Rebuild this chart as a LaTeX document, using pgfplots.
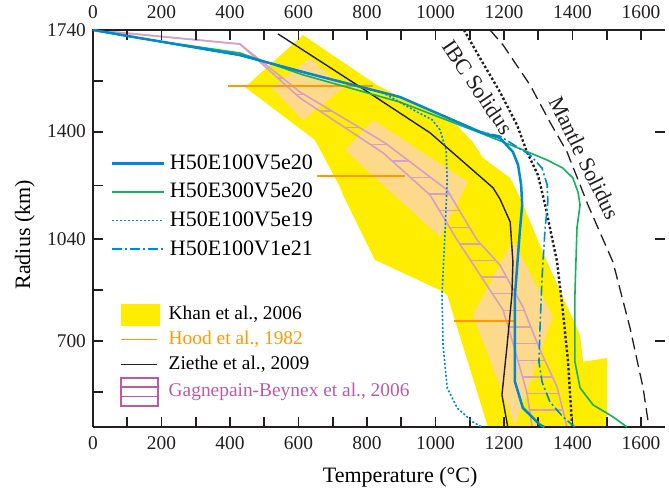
\documentclass[border=0pt]{standalone}
\usepackage{fontspec}
\setmainfont{Liberation Serif}
\usepackage{pgfplots}
\pgfplotsset{compat=1.18}
\usetikzlibrary{patterns.meta}
\definecolor{modelblue}{RGB}{0,137,207}
\definecolor{modelgreen}{RGB}{20,178,90}
\definecolor{khan}{RGB}{255,237,0}
\definecolor{peach}{RGB}{253,217,140}
\definecolor{gbpink}{RGB}{214,160,196}
\definecolor{gbmag}{RGB}{190,88,170}
\definecolor{hood}{RGB}{255,153,0}
\definecolor{axisk}{RGB}{35,31,32}
\pgfplotsset{common/.style={
  at={(0,0)}, anchor=south west, scale only axis, width=286pt, height=198.5pt,
  xmin=0, xmax=1670, ymin=412, ymax=1740,
  axis line style={draw=none},
  /pgf/number format/assume math mode=true,
  /pgf/number format/1000 sep={},
  tick label style={font=\rmfamily\fontsize{9.7}{11}\selectfont, text=axisk},
  major tick length=5pt, minor tick length=5pt,
  tick style={line width=0.9pt, color=axisk},
  tick align=inside,
  clip mode=individual,
  legend cell align=left,
}}
\begin{document}
\begin{tikzpicture}
\useasboundingbox (-46.5pt,-33pt) rectangle (288pt,213.5pt);
\begin{axis}[common, axis on top,
  xtick={0,200,...,1600}, minor xtick={100,300,...,1500}, xtick pos=both, xticklabel pos=lower,
  xticklabel style={yshift=-1.5pt},
  ytick={700,1040,1400,1740}, minor ytick={530,870,1220,1570}, ytick pos=left,
  xlabel={Temperature (°C)}, ylabel={Radius (km)},
  label style={font=\rmfamily\fontsize{11}{13}\selectfont},
  xlabel style={at={(axis description cs:0.537,-0.126)}, anchor=center},
  ylabel style={at={(axis description cs:-0.119,0.484)}, anchor=center},
  legend style={at={(axis description cs:0.0472,0.316)}, anchor=north west, draw=none, fill=none,
    font=\rmfamily\fontsize{9.7}{11}\selectfont, column sep=4.5pt, row sep=0pt, inner sep=0pt,
    nodes={inner sep=0pt, minimum height=12.5pt}},
]
\addlegendimage{legend image code/.code={\fill[khan] (0pt,-5.25pt) rectangle (19pt,5.25pt);}}
\addlegendentry{Khan et al., 2006}
\addlegendimage{legend image code/.code={\draw[hood, line width=0.9pt] (0pt,0pt) -- (18pt,0pt);}}
\addlegendentry{\textcolor{hood}{Hood et al., 1982}}
\addlegendimage{legend image code/.code={\draw[axisk, line width=0.8pt] (0pt,0pt) -- (18pt,0pt);}}
\addlegendentry{Ziethe et al., 2009}
\addlegendimage{legend image code/.code={\draw[gbmag, line width=0.8pt] (0pt,-7pt) rectangle (18.5pt,7pt); \draw[gbmag, line width=0.8pt] (0pt,-2.33pt) -- (18.5pt,-2.33pt) (0pt,2.33pt) -- (18.5pt,2.33pt);}}
\addlegendentry{\textcolor{gbmag}{Gagnepain-Beynex et al., 2006}}

% Khan et al. 2006
\addplot[fill=khan, draw=none, forget plot] coordinates {
(613,1723) (829,1556) (926,1499) (1042,1445) (1109,1365) (1139,1312) (1218,1245) (1247,1178)
(1326,964) (1422,720) (1431,630) (1501,643) (1501,412) (1153,412) (1034,854) (1013,870)
(823,971) (730,1188) (721,1215) (648,1372) (444,1549)};
\addplot[fill=peach, draw=none, forget plot] coordinates {(523,1546) (634,1646) (730,1546) (613,1439)};
\addplot[fill=peach, draw=none, forget plot] coordinates {(736,1339) (818,1439) (1095,1232) (1013,1048)};
\addplot[fill=peach, draw=none, forget plot] coordinates {(1109,787) (1226,1038) (1343,783) (1232,414)};
% Gagnepain-Beynex 2006
\addplot[draw=none, pattern={Lines[angle=0,distance=8.3pt,line width=0.7pt]}, pattern color=gbpink, forget plot] coordinates {
(429,1693) (604,1513) (847,1329) (984,1188) (1063,1038) (1130,921) (1197,804) (1232,670) (1267,526) (1282,412)
(1384,412) (1355,546) (1305,670) (1255,814) (1188,954) (1121,1038) (1034,1205) (853,1362) (604,1533)};
\addplot[gbpink, line width=0.8pt, forget plot] coordinates {
(0,1740) (429,1693) (604,1513) (847,1329) (984,1188) (1063,1038) (1130,921) (1197,804) (1232,670) (1267,526) (1282,412)};
\addplot[gbpink, line width=0.8pt, forget plot] coordinates {
(0,1740) (429,1693) (604,1533) (853,1362) (1034,1205) (1121,1038) (1188,954) (1255,814) (1305,670) (1355,546) (1384,412)};
% Hood et al. 1982
\addplot[hood, line width=0.9pt, forget plot] coordinates {(394,1553) (818,1553)};
\addplot[hood, line width=0.9pt, forget plot] coordinates {(654,1252) (911,1252)};
\addplot[hood, line width=0.9pt, forget plot] coordinates {(1054,767) (1235,767)};
% Ziethe et al. 2009
\addplot[axisk, line width=0.7pt, forget plot] coordinates {
(540,1727) (794,1539) (984,1396) (1168,1212) (1188,1175) (1218,1098) (1226,964) (1223,854) (1209,686) (1194,519) (1211,412)};
\draw[axisk, line width=1pt] (rel axis cs:0,0) -- (rel axis cs:1,0);
\draw[axisk, line width=1pt] (rel axis cs:0,0) -- (rel axis cs:0,1) -- (rel axis cs:1,1);
\end{axis}

\begin{axis}[common,
  xtick={0,200,...,1600}, xtick pos=upper, xticklabel pos=upper,
  xticklabel style={yshift=2pt},
  ytick={700,1040,1400}, ytick pos=right, yticklabels={},
  legend style={at={(axis description cs:0.0297,0.701)}, anchor=north west, draw=none, fill=none,
    font=\rmfamily\fontsize{11}{13}\selectfont, column sep=2.5pt, row sep=0pt, inner sep=0pt,
    nodes={inner sep=0pt, minimum height=14.3pt}},
]
\addlegendimage{legend image code/.code={\draw[modelblue, line width=1.25pt] (0pt,0pt) -- (26pt,0pt);}}
\addlegendentry{H50E100V5e20}
\addlegendimage{legend image code/.code={\draw[modelgreen, line width=0.8pt] (0pt,0pt) -- (26pt,0pt);}}
\addlegendentry{H50E300V5e20}
\addlegendimage{legend image code/.code={\draw[modelblue, line width=0.8pt, dash pattern=on 1pt off 1pt] (0pt,0pt) -- (26pt,0pt);}}
\addlegendentry{H50E100V5e19}
\addlegendimage{legend image code/.code={\draw[modelblue, line width=0.8pt, dash pattern=on 5pt off 1.5pt on 1pt off 1.5pt] (0pt,0pt) -- (26pt,0pt);}}
\addlegendentry{H50E100V1e21}

% solidus curves
\addplot[axisk, line width=1.2pt, dash pattern=on 1.2pt off 1.1pt, forget plot] coordinates {
(1083,1740) (1130,1646) (1188,1533) (1238,1422) (1267,1332) (1299,1255) (1320,1155) (1355,964) (1372,797) (1387,630) (1393,519) (1399,412)};
\addplot[axisk, line width=0.65pt, dash pattern=on 6pt off 3pt, forget plot] coordinates {
(1159,1740) (1197,1690) (1276,1556) (1334,1432) (1384,1332) (1422,1222) (1445,1155) (1518,964) (1568,743) (1606,543) (1623,412)};
% models
\addplot[modelgreen, line width=0.8pt, forget plot] coordinates {
(0,1740) (137,1712) (429,1663) (613,1590) (896,1499) (1130,1396) (1255,1339) (1326,1305) (1372,1278) (1401,1245)
(1416,1198) (1422,1155) (1413,1078) (1407,854) (1407,630) (1422,543) (1460,486) (1518,446) (1559,412)};
\addplot[modelblue, line width=0.8pt, dash pattern=on 1pt off 1pt, forget plot] coordinates {
(0,1740) (137,1713) (429,1656) (634,1593) (847,1530) (946,1466) (990,1440) (1013,1406) (1031,1339) (1034,1238)
(1028,1071) (1019,854) (1022,686) (1034,543) (1063,476) (1109,429) (1135,412)};
\addplot[modelblue, line width=0.8pt, dash pattern=on 5pt off 1.5pt on 1pt off 1.5pt, forget plot] coordinates {
(0,1740) (137,1713) (429,1656) (634,1593) (896,1516) (1130,1400) (1188,1385) (1276,1322) (1311,1278) (1326,1222)
(1328,1165) (1320,1078) (1311,911) (1305,743) (1302,630) (1311,563) (1334,496) (1372,446) (1407,412)};
\addplot[modelblue, line width=1.25pt, forget plot] coordinates {
(0,1740) (137,1713) (429,1656) (634,1593) (896,1516) (1130,1399) (1188,1379) (1226,1332) (1241,1289) (1250,1222)
(1253,1155) (1245,1050) (1232,854) (1232,563) (1255,476) (1305,419) (1318,412)};
\node[rotate=-56, font=\rmfamily\fontsize{11}{13}\selectfont, text=axisk] at (axis cs:1124,1549) {IBC Solidus};
\node[rotate=-64, font=\rmfamily\fontsize{11}{13}\selectfont, text=axisk] at (axis cs:1436,1312) {Mantle Solidus};
\end{axis}
\end{tikzpicture}
\end{document}
